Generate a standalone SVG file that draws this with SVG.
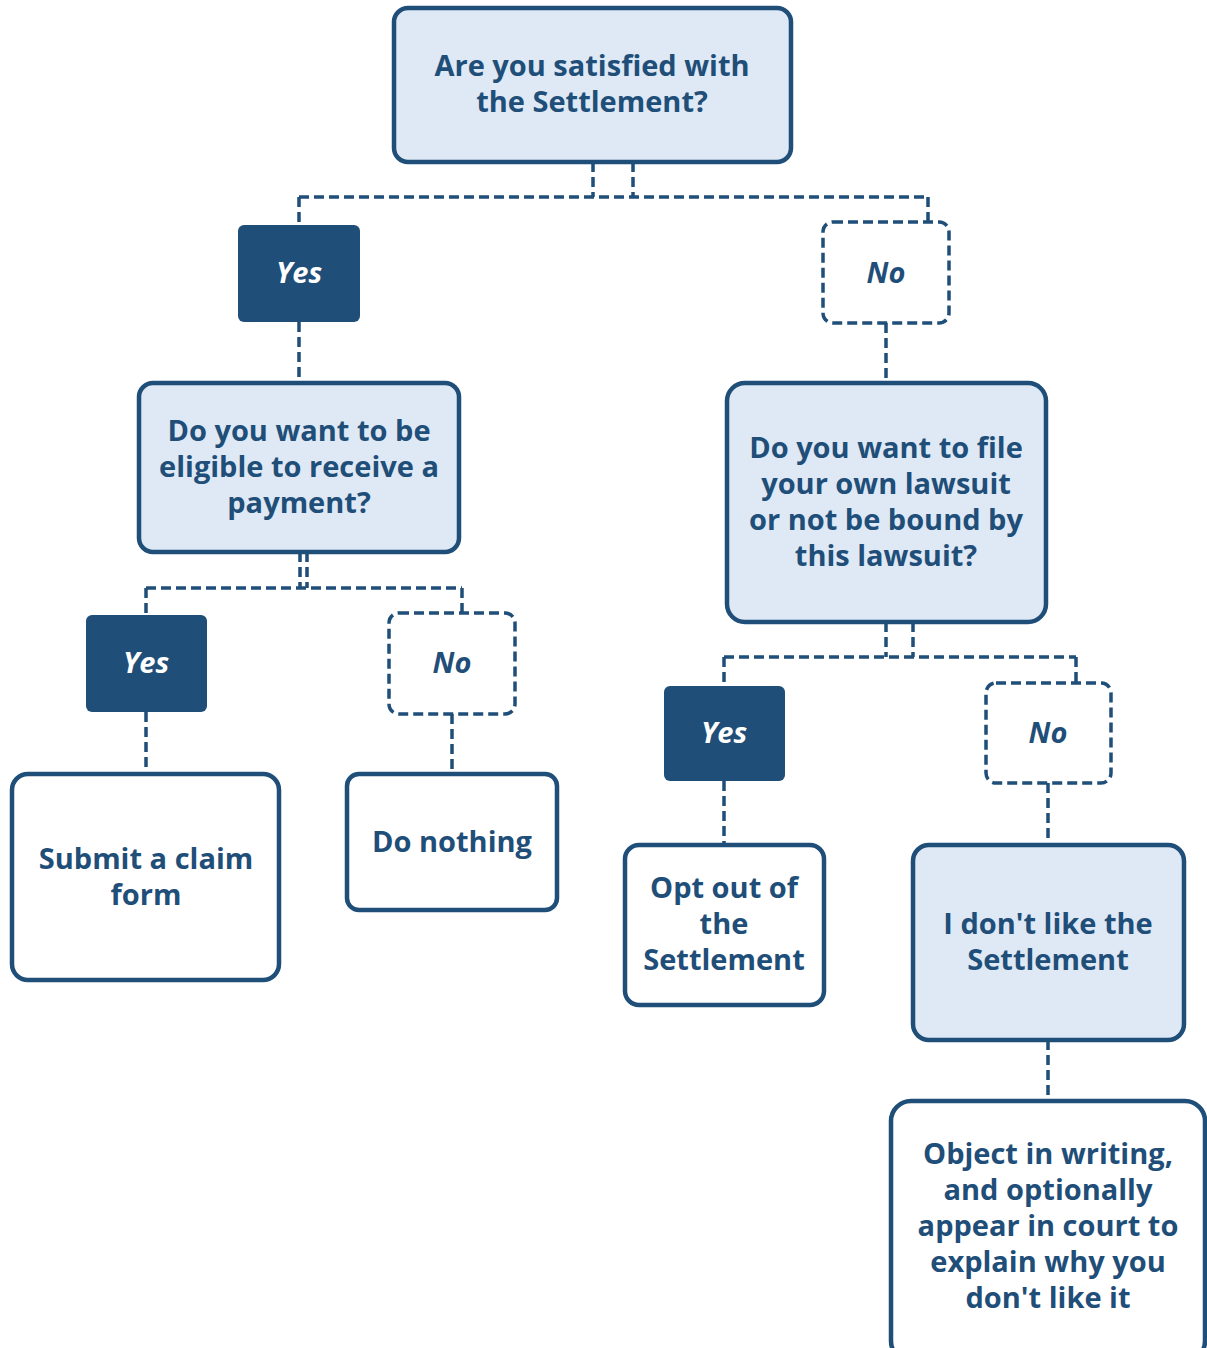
<svg xmlns="http://www.w3.org/2000/svg" width="1207" height="1348" viewBox="0 0 1207 1348">
<style>
.q{fill:#dee9f5;stroke:#1f4e79;stroke-width:4.5}
.a{fill:#ffffff;stroke:#1f4e79;stroke-width:4.5}
.y{fill:#1f4e79;stroke:none}
.n{fill:#ffffff;stroke:#1f4e79;stroke-width:3.5;stroke-dasharray:10 5}
.c{fill:none;stroke:#1f4e79;stroke-width:3.5;stroke-dasharray:10 5}
text{font-family:"Open Sans","Noto Sans","Liberation Sans",sans-serif;font-weight:700;font-size:29px;fill:#1f4e79;text-anchor:middle}
.w{fill:#ffffff;font-style:italic}
.i{font-style:italic}
</style>
<rect width="1207" height="1348" fill="#ffffff"/>
<g id="connectors">
<path class="c" d="M593 162V197M633 162V197M299 197H928M299 197V226M928 197V222"/>
<path class="c" d="M299 322V383M886 323V383"/>
<path class="c" d="M300 552V588M307 552V588M146 588H462M146 588V615M462 588V613"/>
<path class="c" d="M146 712V774M452 714V774"/>
<path class="c" d="M886 622V657M913 622V657M724 657H1076M724 657V686M1076 657V683"/>
<path class="c" d="M724 781V845M1048 783V845M1048 1040V1101"/>
</g>
<g id="n1"><rect class="q" x="394" y="8" width="397" height="154" rx="14"/><text x="592" y="76">Are you satisfied with</text><text x="592" y="112">the Settlement?</text></g>
<g id="yes1"><rect class="y" x="238" y="225" width="122" height="97" rx="6"/><text class="w" x="299" y="283">Yes</text></g>
<g id="no1"><rect class="n" x="823" y="222" width="126" height="101" rx="10"/><text class="i" x="886" y="283">No</text></g>
<g id="n2"><rect class="q" x="139" y="383" width="320" height="169" rx="14"/><text x="299" y="441">Do you want to be</text><text x="299" y="477">eligible to receive a</text><text x="299" y="513">payment?</text></g>
<g id="n3"><rect class="q" x="727" y="383" width="319" height="239" rx="18"/><text x="886" y="458">Do you want to file</text><text x="886" y="494">your own lawsuit</text><text x="886" y="530">or not be bound by</text><text x="886" y="566">this lawsuit?</text></g>
<g id="yes2"><rect class="y" x="86" y="615" width="121" height="97" rx="6"/><text class="w" x="146" y="673">Yes</text></g>
<g id="no2"><rect class="n" x="389" y="613" width="126" height="101" rx="10"/><text class="i" x="452" y="673">No</text></g>
<g id="n4"><rect class="a" x="12" y="774" width="267" height="206" rx="16"/><text x="146" y="869">Submit a claim</text><text x="146" y="905">form</text></g>
<g id="n5"><rect class="a" x="347" y="774" width="210" height="136" rx="12"/><text x="452" y="852">Do nothing</text></g>
<g id="yes3"><rect class="y" x="664" y="686" width="121" height="95" rx="6"/><text class="w" x="724" y="743">Yes</text></g>
<g id="no3"><rect class="n" x="986" y="683" width="125" height="100" rx="10"/><text class="i" x="1048" y="743">No</text></g>
<g id="n6"><rect class="a" x="625" y="845" width="199" height="160" rx="14"/><text x="724" y="898">Opt out of</text><text x="724" y="934">the</text><text x="724" y="970">Settlement</text></g>
<g id="n7"><rect class="q" x="913" y="845" width="271" height="195" rx="16"/><text x="1048" y="934">I don't like the</text><text x="1048" y="970">Settlement</text></g>
<g id="n8"><rect class="a" x="891" y="1101" width="314" height="260" rx="20"/><text x="1048" y="1164">Object in writing,</text><text x="1048" y="1200">and optionally</text><text x="1048" y="1236">appear in court to</text><text x="1048" y="1272">explain why you</text><text x="1048" y="1308">don't like it</text></g>
</svg>
